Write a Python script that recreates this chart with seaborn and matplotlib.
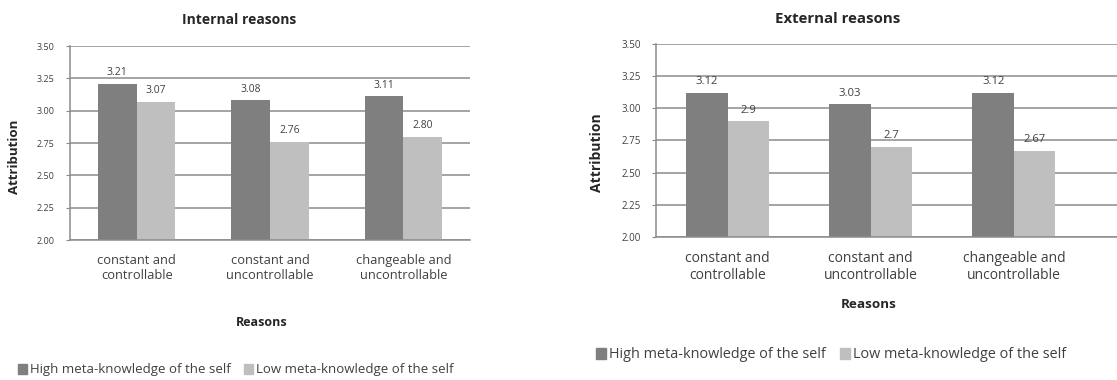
import pandas as pd
import matplotlib.pyplot as plt
import seaborn as sns

# values
reasons = ["constant and\ncontrollable", "constant and\nuncontrollable", "changeable and\nuncontrollable"]
groups = ["High meta-knowledge of the self", "Low meta-knowledge of the self"]
internal_high = [3.21, 3.08, 3.11]
internal_low = [3.07, 2.76, 2.80]
external_high = [3.12, 3.03, 3.12]
external_low = [2.90, 2.70, 2.67]
internal_labels = [["3.21", "3.08", "3.11"], ["3.07", "2.76", "2.80"]]
external_labels = [["3.12", "3.03", "3.12"], ["2.9", "2.7", "2.67"]]
yticks = [2.00, 2.25, 2.50, 2.75, 3.00, 3.25, 3.50]

sns.set_style("white")
plt.rcParams["font.family"] = ["Open Sans", "DejaVu Sans"]

dark = "#7f7f7f"
light = "#bfbfbf"
txt = "#404040"


def make_df(high, low):
    return pd.DataFrame(
        {
            "reason": reasons * 2,
            "group": [groups[0]] * 3 + [groups[1]] * 3,
            "value": high + low,
        }
    )


fig = plt.figure(figsize=(11.17, 3.8), dpi=100)
ax1 = fig.add_axes([0.0627, 0.3684, 0.3581, 0.5105])
ax2 = fig.add_axes([0.5873, 0.3763, 0.4127, 0.5080])

# the right chart was pasted a little larger, so its text is scaled up
panels = [
    (ax1, make_df(internal_high, internal_low), internal_labels, -0.5, 2.5, 1.0),
    (ax2, make_df(external_high, external_low), external_labels, -0.5, 2.72, 1.08),
]

for ax, df, labels, x0, x1, k in panels:
    sns.barplot(
        data=df,
        x="reason",
        y="value",
        hue="group",
        palette=[dark, light],
        width=0.58,
        saturation=1,
        linewidth=0,
        edgecolor="none",
        legend=False,
        ax=ax,
    )
    for cont, labs in zip(ax.containers, labels):
        ax.bar_label(cont, labels=labs, padding=4, fontsize=7.5 * k, color=txt)
    ax.set_ylim(2.0, 3.5)
    ax.set_xlim(x0, x1)
    ax.set_yticks(yticks)
    ax.set_yticklabels([f"{t:.2f}" for t in yticks], fontsize=6.5 * k, color=txt)
    ax.tick_params(axis="x", labelsize=9.3 * k, colors=txt, length=0, pad=10)
    ax.tick_params(axis="y", length=3, width=0.8, color="#888888", pad=8, left=True)
    ax.yaxis.grid(True, color="#8c8c8c", linewidth=1.1)
    ax.set_axisbelow(True)
    for s in ["top", "right"]:
        ax.spines[s].set_visible(False)
    for s in ["left", "bottom"]:
        ax.spines[s].set_color("#8c8c8c")
        ax.spines[s].set_linewidth(1.1)
    ax.set_xlabel("")
    ax.set_ylabel("")

# titles and axis labels placed like the original chart areas
fig.text(239 / 1117, 1 - 20 / 380, "Internal reasons", ha="center", va="center",
         fontsize=10, fontweight="bold", color="#262626")
fig.text(838 / 1117, 1 - 19 / 380, "External reasons", ha="center", va="center",
         fontsize=10.8, fontweight="bold", color="#262626")
fig.text(262 / 1117, 1 - 323 / 380, "Reasons", ha="center", va="center",
         fontsize=9, fontweight="bold", color="#262626")
fig.text(869 / 1117, 1 - 305 / 380, "Reasons", ha="center", va="center",
         fontsize=9.7, fontweight="bold", color="#262626")
fig.text(15 / 1117, 1 - 157 / 380, "Attribution", ha="center", va="center",
         rotation=90, fontsize=9.5, fontweight="bold", color="#262626")
fig.text(597 / 1117, 1 - 153 / 380, "Attribution", ha="center", va="center",
         rotation=90, fontsize=10, fontweight="bold", color="#262626")

handles = [plt.Rectangle((0, 0), 1, 1, color=dark), plt.Rectangle((0, 0), 1, 1, color=light)]
for x, y, fs in [(18 / 1117, 1 - 370 / 380, 9.5), (596 / 1117, 1 - 355 / 380, 10.4)]:
    fig.legend(handles, groups, loc="center left", bbox_to_anchor=(x, y), ncol=2,
               frameon=False, fontsize=fs, handlelength=0.7, handleheight=0.8,
               handletextpad=0.2, columnspacing=1.0, borderaxespad=0, borderpad=0,
               labelcolor=txt)

fig.savefig("out.png", dpi=100)
